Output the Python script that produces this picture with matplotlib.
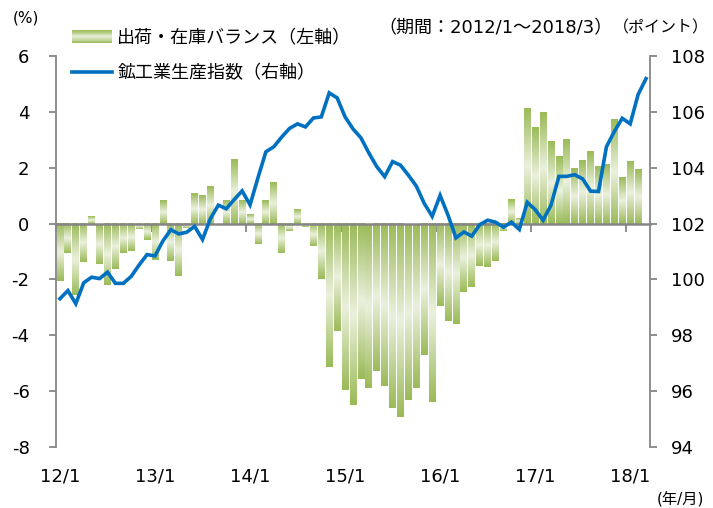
import numpy as np
import pandas as pd
import matplotlib
matplotlib.use("Agg")
import matplotlib.pyplot as plt
from matplotlib.colors import LinearSegmentedColormap
from matplotlib.legend_handler import HandlerBase
from matplotlib.patches import Rectangle
from matplotlib.lines import Line2D
from matplotlib.transforms import blended_transform_factory

plt.rcParams['font.family'] = ['DejaVu Sans', 'Noto Sans CJK JP']

# monthly data 2012/1 - 2018/3
months = pd.period_range('2012-01', '2018-03', freq='M')
balance = [-2.05, -1.05, -2.55, -1.37, 0.27, -1.43, -2.2, -1.62, -1.04, -1.0, -0.21, -0.58,
           -1.3, 0.85, -1.33, -1.87, -0.15, 1.08, 1.02, 1.34, 0.0, 0.83, 2.3, 0.84,
           0.33, -0.72, 0.84, 1.48, -1.04, -0.28, 0.52, -0.13, -0.82, -2.0, -5.15, -3.85,
           -5.97, -6.5, -5.58, -5.87, -5.29, -5.83, -6.61, -6.94, -6.3, -5.87, -4.71, -6.4,
           -2.96, -3.5, -3.6, -2.46, -2.28, -1.52, -1.55, -1.34, -0.27, 0.86, 0.19, 4.12,
           3.45, 3.99, 2.95, 2.41, 3.02, 1.98, 2.27, 2.59, 2.05, 2.12, 3.74, 1.66,
           2.23, 1.95]  # 2018/3 not available
production = [99.31, 99.6, 99.13, 99.88, 100.08, 100.03, 100.26, 99.86, 99.86, 100.11, 100.52, 100.89,
              100.84, 101.38, 101.78, 101.63, 101.69, 101.9, 101.43, 102.18, 102.66, 102.53, 102.86, 103.17,
              102.67, 103.64, 104.57, 104.75, 105.1, 105.41, 105.57, 105.46, 105.78, 105.82, 106.68, 106.5,
              105.82, 105.39, 105.07, 104.53, 104.04, 103.68, 104.22, 104.09, 103.73, 103.34, 102.72, 102.26,
              103.01, 102.3, 101.49, 101.7, 101.55, 101.96, 102.12, 102.05, 101.87, 102.05, 101.79, 102.76,
              102.5, 102.12, 102.66, 103.69, 103.69, 103.75, 103.6, 103.16, 103.15, 104.75, 105.3, 105.77,
              105.57, 106.62, 107.19]
year_labels = ['12/1', '13/1', '14/1', '15/1', '16/1', '17/1', '18/1']

green = '#9BBB59'
light = '#EBF1DE'
blue = '#0070C0'
gray = '#868686'
cmap = LinearSegmentedColormap.from_list('g', [green, light, green])
grad = np.linspace(0, 1, 64).reshape(-1, 1)


class GradHandler(HandlerBase):
    def create_artists(self, legend, orig, xd, yd, w, h, fontsize, trans):
        n = 16
        arts = []
        for k in range(n):
            arts.append(Rectangle((xd, yd + h * k / n), w, h / n * 1.05,
                                  facecolor=cmap((k + 0.5) / n), edgecolor='none',
                                  transform=trans))
        return arts


fig = plt.figure(figsize=(7.13, 5.08), dpi=100)
ax = fig.add_axes([56 / 713, 1 - 447 / 508, 594 / 713, 391 / 508])

x = np.arange(len(months))
bars = ax.bar(x[:len(balance)], balance, width=0.86, color='none', edgecolor='none')
for b in bars:
    bx, by, bw, bh = b.get_x(), b.get_y(), b.get_width(), b.get_height()
    ax.imshow(grad, cmap=cmap, aspect='auto', extent=[bx, bx + bw, by, by + bh],
              origin='lower', interpolation='bilinear', zorder=2)

ax.set_xlim(-0.5, len(months) - 0.5)
ax.set_ylim(-8, 6)
ax.set_yticks(np.arange(-8, 7, 2))
ax.spines['top'].set_visible(False)
ax.spines['right'].set_visible(False)
ax.spines['left'].set_color(gray)
ax.spines['left'].set_linewidth(1.3)
ax.spines['bottom'].set_position(('data', 0))
ax.spines['bottom'].set_color(gray)
ax.spines['bottom'].set_linewidth(1.8)
ax.spines['bottom'].set_zorder(3)
ax.set_xticks(np.arange(0, len(months), 12) - 0.5)
ax.set_xticklabels([])
ax.tick_params(axis='x', length=6, width=1.3, color=gray, direction='out')
ax.tick_params(axis='y', length=5, width=1.3, color=gray, labelsize=13, pad=14)
ax.set_yticklabels([str(v) for v in range(-8, 7, 2)])

tr = blended_transform_factory(ax.transData, ax.transAxes)
for k, lab in enumerate(year_labels):
    ax.text(12 * k, -0.075, lab, transform=tr, ha='center', va='center', fontsize=13)

ax2 = ax.twinx()
ax2.plot(x, production, color=blue, linewidth=2.6, solid_joinstyle='miter', zorder=4)
ax2.set_ylim(94, 108)
ax2.set_yticks(np.arange(94, 109, 2))
for s in ['top', 'left', 'bottom']:
    ax2.spines[s].set_visible(False)
ax2.spines['right'].set_color(gray)
ax2.spines['right'].set_linewidth(1.3)
ax2.tick_params(axis='y', length=5, width=1.3, color=gray, labelsize=13, pad=10)

handles = [Rectangle((0, 0), 1, 1), Line2D([], [], color=blue, linewidth=2.6)]
labels = ['出荷・在庫バランス（左軸）', '鉱工業生産指数（右軸）']
fig.legend(handles, labels, loc='upper left', bbox_to_anchor=(72 / 713, 1 - 29 / 508),
           frameon=False, fontsize=13, handlelength=2.2, handletextpad=0.3,
           labelspacing=0.95, borderpad=0, borderaxespad=0,
           handler_map={Rectangle: GradHandler()})

fig.text(26 / 713, 1 - 18 / 508, '(%)', ha='center', va='center', fontsize=11)
fig.text(496 / 713, 1 - 28 / 508, '（期間：2012/1～2018/3）', ha='center', va='center', fontsize=13)
fig.text(661 / 713, 1 - 28 / 508, '（ポイント）', ha='center', va='center', fontsize=11.5)
fig.text(680 / 713, 1 - 500 / 508, '(年/月)', ha='center', va='center', fontsize=11)

fig.savefig('out.png', dpi=100)
